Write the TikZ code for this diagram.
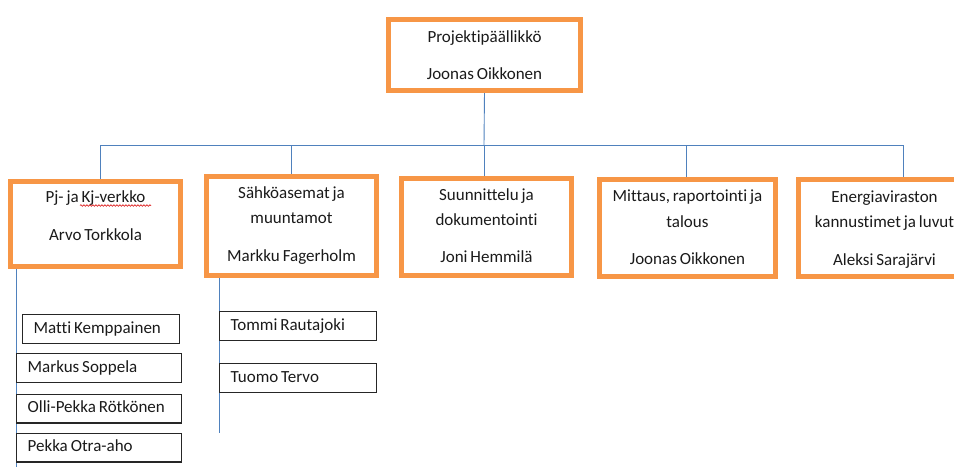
\documentclass[tikz,border=0pt]{standalone}
\usepackage{fontspec}
\setmainfont{Carlito}[Ligatures=NoCommon, WordSpace={0.75,0,0}]
\usetikzlibrary{decorations.pathmorphing}
\definecolor{boxorange}{HTML}{F79646}
\definecolor{linkblue}{HTML}{4F81BD}
\definecolor{inkgray}{HTML}{1A1A1A}
% left-aligned name inside a member frame of given inner width
\newcommand\namefield[2]{\makebox[#1][l]{#2}}
\begin{document}
\begin{tikzpicture}[x=1pt,y=-1pt,
  every node/.style={font=\fontsize{17}{25}\selectfont, text=inkgray},
  unit/.style={draw=boxorange, line width=3.4pt, rectangle, inner sep=0pt},
  member/.style={draw=black!85, line width=1.3pt, rectangle, inner xsep=11pt, inner ysep=0pt,
    minimum height=28.7pt, text height=12pt, text depth=4pt},
  link/.style={draw=linkblue, line width=0.9pt},
  textline/.style={anchor=base, inner sep=0pt}
]
\clip (0,0) rectangle (954,467);

% junction points on the distribution bar
\coordinate (hub) at (484,145);
\coordinate (j1) at (100,145);
\coordinate (j2) at (291,145);
\coordinate (j3) at (484,145);
\coordinate (j4) at (686,145);
\coordinate (j5) at (903,145);
\coordinate (trunkA) at (16,467);
\coordinate (trunkB) at (219,433);

% organisation units
\node[unit, minimum width=191pt, minimum height=70pt] (top) at (484.5,55) {};
\node[unit, minimum width=169pt, minimum height=84pt] (b1) at (95.5,224) {};
\node[unit, minimum width=169pt, minimum height=98pt] (b2) at (291.5,226) {};
\node[unit, minimum width=169pt, minimum height=96pt] (b3) at (486.5,227) {};
\node[unit, minimum width=175pt, minimum height=96pt] (b4) at (687.5,228) {};
\node[unit, minimum width=171pt, minimum height=96pt] (b5) at (884.5,228) {};

% connectors
\draw[link] (top.south) -- (hub);
\draw[link] (j1) -- (j5);
\draw[link] (j1) -- (j1 |- b1.north);
\draw[link] (j2) -- (j2 |- b2.north);
\draw[link] (j3) -- (j3 |- b3.north);
\draw[link] (j4) -- (j4 |- b4.north);
\draw[link] (j5) -- (j5 |- b5.north);
\draw[link] (trunkA |- b1.south) -- (trunkA);
\draw[link] (trunkB |- b2.south) -- (trunkB);

% redraw unit frames above connector ends
\foreach \u in {top,b1,b2,b3,b4,b5}
  \draw[boxorange, line width=3.4pt] (\u.south west) rectangle (\u.north east);

% unit titles and leaders
\node[textline] (t0a) at (484.5,42) {Projektipäällikkö};
\node[textline] (t0b) at (484.5,79) {Joonas Oikkonen};

\node[textline] (t1a) at (95.5,202) {Pj- ja Kj-verkko};
\node[textline] (t1b) at (95.5,240) {Arvo Torkkola};
\draw[red!85!black, line width=0.6pt, decorate,
  decoration={snake, amplitude=0.8pt, segment length=3pt}] (80,205.5) -- (151,205.5);

\node[textline] (t2a) at (291.5,198) {Sähköasemat ja};
\node[textline] (t2b) at (291.5,223) {muuntamot};
\node[textline] (t2c) at (291.5,261) {Markku Fagerholm};

\node[textline] (t3a) at (486.5,200) {Suunnittelu ja};
\node[textline] (t3b) at (486.5,225) {dokumentointi};
\node[textline] (t3c) at (486.5,262) {Joni Hemmilä};

\node[textline] (t4a) at (687.5,201) {Mittaus, raportointi ja};
\node[textline] (t4b) at (687.5,227) {talous};
\node[textline] (t4c) at (687.5,264) {Joonas Oikkonen};

\node[textline] (t5a) at (884.5,202) {Energiaviraston};
\node[textline] (t5b) at (884.5,227) {kannustimet ja luvut};
\node[textline] (t5c) at (884.5,265) {Aleksi Sarajärvi};

% team members
\node[member] (m1) at (101,329) {\namefield{134.7pt}{Matti Kemppainen}};
\node[member] (m2) at (99,368) {\namefield{142.7pt}{Markus Soppela}};
\node[member] (m3) at (99,408.5) {\namefield{142.7pt}{Olli-Pekka Rötkönen}};
\node[member] (m4) at (99,447.5) {\namefield{142.7pt}{Pekka Otra-aho}};

\node[member] (r1) at (298,326) {\namefield{134.7pt}{Tommi Rautajoki}};
\node[member] (r2) at (298,378) {\namefield{134.7pt}{Tuomo Tervo}};
\end{tikzpicture}
\end{document}
